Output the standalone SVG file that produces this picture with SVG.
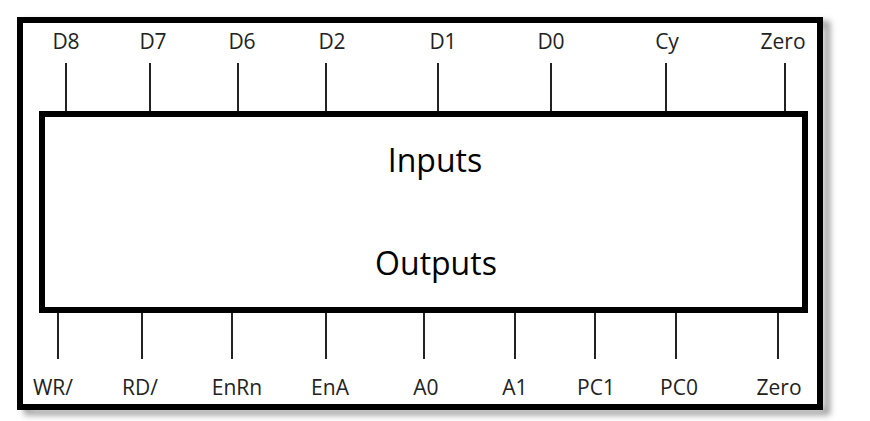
<svg xmlns="http://www.w3.org/2000/svg" width="870" height="421" viewBox="0 0 870 421">
<style>
.lbl{font-family:"Open Sans","Noto Sans",sans-serif;font-size:21px;fill:#222;text-anchor:middle}
.big{font-family:"Open Sans","Noto Sans",sans-serif;font-size:32px;fill:#000;text-anchor:middle}
.pin{stroke:#222;stroke-width:2;fill:none}
</style>
<defs>
<filter id="sh" x="-5%" y="-5%" width="110%" height="110%"><feGaussianBlur stdDeviation="3"/></filter>
</defs>
<rect width="870" height="421" fill="#fff"/>
<rect x="27" y="24" width="800" height="388" fill="none" stroke="#999" stroke-width="6" filter="url(#sh)"/>
<rect id="frame" x="20" y="20" width="800" height="387" fill="#fff" stroke="#000" stroke-width="6"/>
<g id="connectors">
<path class="pin" d="M66 63V111M150 63V111M238 63V111M326 63V111M438 63V111M551 63V111M666 63V111M785 63V111"/>
<path class="pin" d="M58 313V359M142 313V359M232 313V359M326 313V359M424 313V359M515 313V359M595 313V359M676 313V359M778 313V359"/>
</g>
<g id="block">
<rect x="42" y="114" width="763" height="196" fill="#fff" stroke="#000" stroke-width="6"/>
<text class="big" x="435" y="172">Inputs</text>
<text class="big" x="436" y="275">Outputs</text>
</g>
<g id="top-labels">
<text class="lbl" x="66" y="49">D8</text>
<text class="lbl" x="153" y="49">D7</text>
<text class="lbl" x="242" y="49">D6</text>
<text class="lbl" x="332" y="49">D2</text>
<text class="lbl" x="443" y="49">D1</text>
<text class="lbl" x="551" y="49">D0</text>
<text class="lbl" x="667" y="49">Cy</text>
<text class="lbl" x="783" y="49">Zero</text>
</g>
<g id="bottom-labels">
<text class="lbl" x="53" y="395">WR/</text>
<text class="lbl" x="140" y="395">RD/</text>
<text class="lbl" x="237" y="395">EnRn</text>
<text class="lbl" x="330" y="395">EnA</text>
<text class="lbl" x="426" y="395">A0</text>
<text class="lbl" x="515" y="395">A1</text>
<text class="lbl" x="596" y="395">PC1</text>
<text class="lbl" x="679" y="395">PC0</text>
<text class="lbl" x="779" y="395">Zero</text>
</g>
</svg>
